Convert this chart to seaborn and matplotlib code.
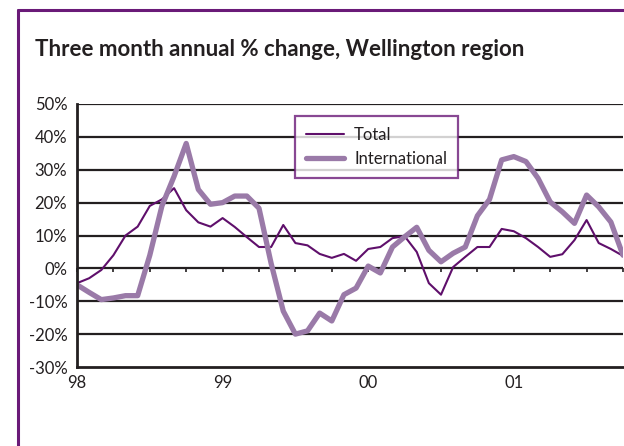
import numpy as np
import pandas as pd
import seaborn as sns
import matplotlib.pyplot as plt
from matplotlib.lines import Line2D

# monthly, Jan 1998 .. Oct 2001
months = list(range(46))
year_ticks = [0, 12, 24, 36]
year_labels = ["98", "99", "00", "01"]
total = [-4.5, -3, -0.5, 4, 10, 12.7, 19, 21, 24.4, 17.7, 14, 12.7, 15.3, 12.6, 9.5, 6.5,
         6.5, 13.2, 7.7, 7, 4.4, 3.2, 4.4, 2.3, 5.9, 6.5, 9.2, 9.8, 5, -4.5, -8, 0.4,
         3.5, 6.5, 6.5, 12, 11.3, 9.2, 6.5, 3.5, 4.3, 8.6, 14.7, 7.7, 5.9, 3.8]
international = [-5, -7.3, -9.5, -9, -8.3, -8.3, 4, 19, 28, 38, 24, 19.5, 20, 22, 22, 18.3,
                 1.5, -13, -20, -19, -13.6, -16, -8, -6, 0.7, -1.4, 6.5, 9.6, 12.5, 5.5, 2, 4.6,
                 6.5, 16, 21, 33, 34, 32.5, 27.4, 20.2, 17.2, 13.7, 22.3, 18.7, 14.1, 4]
y_ticks = [-30, -20, -10, 0, 10, 20, 30, 40, 50]

TOTAL_C = "#5f0f6b"
INTL_C = "#9a7aa8"
FRAME_C = "#6a1a78"
INK = "#231f20"

sns.set_style("white")
plt.rcParams['font.family'] = ['Lato', 'DejaVu Sans']

df = pd.DataFrame({"month": months, "Total": total, "International": international})

fig = plt.figure(figsize=(6.24, 4.46), dpi=100)
ax = fig.add_axes([77 / 624, 1 - 367 / 446, 546 / 624, 263 / 446])

sns.lineplot(data=df, x="month", y="Total", ax=ax, color=TOTAL_C, linewidth=1.5, label="Total")
sns.lineplot(data=df, x="month", y="International", ax=ax, color=INTL_C, linewidth=3.8,
             label="International")

ax.set_xlim(0, 45)
ax.set_ylim(-30, 50)
ax.set_yticks(y_ticks)
ax.set_yticklabels([f"{v}%" for v in y_ticks], fontsize=12, color=INK)
ax.set_xticks(year_ticks)
ax.set_xticklabels(year_labels, fontsize=12, color=INK)
ax.tick_params(axis="y", length=0, pad=7)
ax.tick_params(axis="x", length=0, pad=6)
ax.set_xlabel("")
ax.set_ylabel("")
for v in y_ticks[1:]:
    ax.axhline(v, color=INK, linewidth=1.6, zorder=0.5)
for s in ["top", "right"]:
    ax.spines[s].set_visible(False)
for s in ["left", "bottom"]:
    ax.spines[s].set_color(INK)
    ax.spines[s].set_linewidth(2)

# small quarter ticks on the zero line
sec = ax.secondary_xaxis(30 / 80)
sec.set_xticks(list(range(0, 46, 3)))
sec.set_xticklabels([])
sec.tick_params(length=3, width=1.2, color=INK, direction="out")
sec.spines["bottom"].set_visible(False)

leg = ax.legend(loc="upper left", bbox_to_anchor=(0.399, 0.954), borderaxespad=0,
                fontsize=12, frameon=True, fancybox=False, handlelength=2.3,
                handletextpad=0.6, borderpad=0.65, labelspacing=0.5)
leg.get_frame().set_edgecolor(FRAME_C)
leg.get_frame().set_linewidth(1.6)
for t in leg.get_texts():
    t.set_color(INK)

fig.text(35 / 624, 1 - 49 / 446, "Three month annual % change, Wellington region",
         fontsize=16, fontweight="bold", color=INK, va="center", ha="left")

# outer purple frame
fig.add_artist(Line2D([18 / 624, 18 / 624], [0, 1 - 10 / 446], color=FRAME_C, linewidth=2.2))
fig.add_artist(Line2D([18 / 624, 1], [1 - 10 / 446, 1 - 10 / 446], color=FRAME_C, linewidth=2.2))

fig.savefig("out.png", dpi=100)
